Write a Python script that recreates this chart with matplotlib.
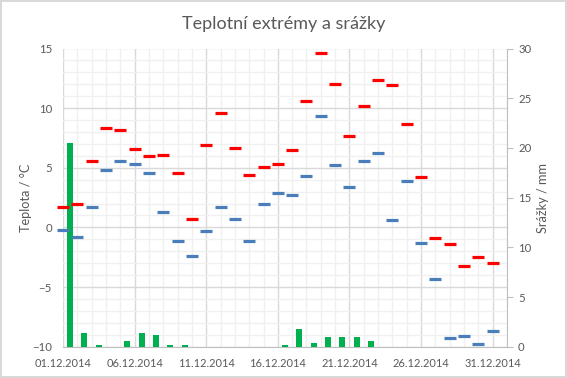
import numpy as np
import matplotlib
matplotlib.use("Agg")
import matplotlib.pyplot as plt
from matplotlib.ticker import MultipleLocator, FixedLocator

# ---- data ----
tick_labels = ["01.12.2014", "06.12.2014", "11.12.2014", "16.12.2014",
               "21.12.2014", "26.12.2014", "31.12.2014"]
tmax = [1.7, 2.0, 5.6, 8.3, 8.2, 6.6, 6.0, 6.1, 4.6, 0.7,
        6.9, 9.6, 6.7, 4.4, 5.1, 5.3, 6.5, 10.6, 14.6, 12.0,
        7.7, 10.2, 12.4, 11.9, 8.7, 4.2, -0.9, -1.4, -3.2, -2.5, -3.0]
tmin = [-0.2, -0.8, 1.7, 4.8, 5.6, 5.3, 4.6, 1.3, -1.1, -2.4,
        -0.3, 1.7, 0.7, -1.1, 2.0, 2.9, 2.7, 4.3, 9.3, 5.2,
        3.4, 5.6, 6.2, 0.6, 3.9, -1.3, -4.3, -9.3, -9.1, -9.8, -8.7]
precip = [20.5, 1.4, 0.2, 0.0, 0.6, 1.4, 1.2, 0.2, 0.2, 0.0,
          0.0, 0.0, 0.0, 0.0, 0.0, 0.2, 1.8, 0.4, 1.0, 1.0,
          1.0, 0.6, 0.0, 0.0, 0.0, 0.0, 0.0, 0.0, 0.0, 0.0, 0.0]

plt.rcParams['font.family'] = ['Lato', 'DejaVu Sans']
TXT = '#595959'

W, H = 567, 378
fig = plt.figure(figsize=(W / 100, H / 100), dpi=100)
fig.patch.set_facecolor('white')
fig.patch.set_edgecolor('#d9d9d9')
fig.patch.set_linewidth(1.5)

L, R, T, B = 63, 507, 48.5, 346.7
pos = [L / W, 1 - B / H, (R - L) / W, (B - T) / H]

idx = np.arange(len(tmax))

# base axes: temperature scale, grid, left ticks, x ticks
ax = fig.add_axes(pos)
ax.set_zorder(0)
ax.set_xlim(0, 31)
ax.set_ylim(-10, 15)
ax.yaxis.set_major_locator(MultipleLocator(5))
ax.yaxis.set_minor_locator(MultipleLocator(1))
ax.xaxis.set_major_locator(FixedLocator(np.arange(0, 31, 5)))
ax.xaxis.set_minor_locator(MultipleLocator(1))
ax.set_xticklabels(tick_labels)
ax.grid(which='major', color='#d9d9d9', linewidth=1.0)
ax.grid(which='minor', color='#f0f0f0', linewidth=1.0)
ax.tick_params(which='both', length=0)
ax.tick_params(axis='y', labelsize=8.2, colors=TXT, pad=8)
ax.tick_params(axis='x', labelsize=7.9, colors=TXT, pad=8)
for s in ['left', 'top', 'right']:
    ax.spines[s].set_visible(False)
ax.spines['bottom'].set_color('#bfbfbf')
ax.set_ylabel('Teplota / °C', color=TXT, fontsize=9.2, va='center')
ax.yaxis.set_label_coords((26 - L) / (R - L), 0.5)

# precipitation axes
axp = ax.twinx()
axp.set_zorder(1)
axp.patch.set_visible(False)
axp.set_ylim(0, 30)
axp.yaxis.set_major_locator(MultipleLocator(5))
axp.bar(idx + 0.5, precip, width=0.42, color='#00b050', linewidth=0)
axp.tick_params(axis='y', length=4, color='#bfbfbf', labelsize=8.2,
                labelcolor=TXT, pad=4)
for s in ['left', 'top', 'bottom']:
    axp.spines[s].set_visible(False)
axp.spines['right'].set_color('#bfbfbf')
axp.set_ylabel('Srážky / mm', color=TXT, fontsize=9.2, va='center')
axp.yaxis.set_label_coords((543 - L) / (R - L), 0.5)

# marker axes (temperature)
axm = ax.twinx()
axm.set_zorder(2)
axm.patch.set_visible(False)
axm.set_ylim(-10, 15)
axm.set_yticks([])
for s in axm.spines.values():
    s.set_visible(False)
axm.plot(idx, tmin, linestyle='none', marker='_', markersize=8.8,
         markeredgewidth=2.3, color='#4a7ebb', clip_on=False)
axm.plot(idx, tmax, linestyle='none', marker='_', markersize=8.8,
         markeredgewidth=2.3, color='#ff0000', clip_on=False)

fig.text(0.5, 1 - 24 / H, 'Teplotní extrémy a srážky', ha='center',
         va='center', fontsize=13, color=TXT)

fig.savefig('out.png', dpi=100, facecolor=fig.get_facecolor(),
            edgecolor=fig.get_edgecolor())
